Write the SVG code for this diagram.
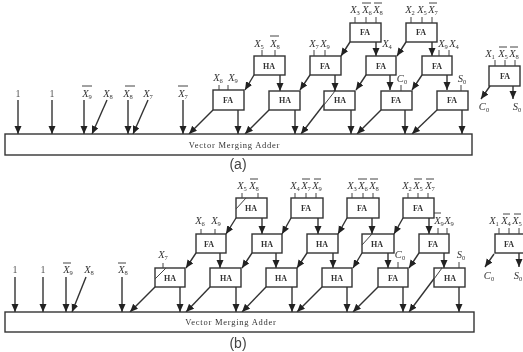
<svg xmlns="http://www.w3.org/2000/svg" width="523" height="352" viewBox="0 0 523 352">
<style>
text{font-family:"Liberation Serif","Times New Roman",serif;fill:#333}
.b{fill:#fff;stroke:#333;stroke-width:1.4}
.n{font-size:8px;font-weight:bold;text-anchor:middle}
.l{font-size:10.5px;font-style:italic;text-anchor:middle}
.o{font-size:10px;text-anchor:middle;fill:#555}
.s{font-size:6.5px;font-style:normal}
.t{font-size:8.5px;text-anchor:middle;letter-spacing:.75px}
.c{font-family:"Liberation Sans",Arial,sans-serif;font-size:14px;text-anchor:middle;fill:#444}
.w{stroke:#444;stroke-width:1;fill:none}
.a{stroke:#333;stroke-width:1.4;fill:none;marker-end:url(#h)}
</style>
<defs>
<marker id="h" markerUnits="userSpaceOnUse" markerWidth="10" markerHeight="8" refX="8" refY="3.5" orient="auto"><path d="M0 0L8 3.500L0 7z" fill="#222"/></marker>
<filter id="f" x="0" y="0" width="100%" height="100%"><feGaussianBlur stdDeviation="0.35"/></filter>
</defs>
<g filter="url(#f)">
<rect width="523" height="352" fill="#fff"/>
<g id="connectors">
<path class="a" d="M18 100V134"/><path class="a" d="M52 100V134"/><path class="a" d="M84 100V134"/><path class="a" d="M107 100L92 134"/><path class="a" d="M128 100V134"/><path class="a" d="M148 100L133 134"/><path class="a" d="M183 100V134"/>
<path class="a" d="M213 110L189 134"/><path class="a" d="M238 110V134"/><path class="a" d="M269 110L245 134"/><path class="a" d="M295 110V134"/><path class="a" d="M335 90L301 134"/><path class="a" d="M351 110V134"/><path class="a" d="M381 110L357 134"/><path class="a" d="M405 110V134"/><path class="a" d="M437 110L412 134"/><path class="a" d="M462 110V134"/>
<path class="a" d="M254 75L245 90"/><path class="a" d="M280 75V91"/><path class="a" d="M310 75L300 90"/><path class="a" d="M335 75V91"/><path class="a" d="M366 75L356 90"/><path class="a" d="M390 75V90"/><path class="a" d="M422 75L412 90"/><path class="a" d="M447 75V90"/>
<path class="a" d="M350 42L341 56"/><path class="a" d="M376 42V56"/><path class="a" d="M406 42L397 56"/><path class="a" d="M432 42V56"/>
<path class="a" d="M490 86L481 99"/><path class="a" d="M513 86V99"/>
<path class="a" d="M15 277V312"/><path class="a" d="M43 277V312"/><path class="a" d="M66 277V312"/><path class="a" d="M86 277L72 312"/><path class="a" d="M122 277V312"/>
<path class="a" d="M155 287L130 312"/><path class="a" d="M180 287V312"/><path class="a" d="M210 287L186 312"/><path class="a" d="M236 287V312"/><path class="a" d="M266 287L242 312"/><path class="a" d="M292 287V312"/><path class="a" d="M322 287L297 312"/><path class="a" d="M347 287V312"/><path class="a" d="M378 287L353 312"/><path class="a" d="M403 287V312"/><path class="a" d="M442 268L409 312"/><path class="a" d="M459 287V312"/>
<path class="a" d="M196 253L186 268"/><path class="a" d="M220 253V268"/><path class="a" d="M252 253L242 268"/><path class="a" d="M276 253V268"/><path class="a" d="M307 253L297 268"/><path class="a" d="M333 253V268"/><path class="a" d="M362 253L353 268"/><path class="a" d="M388 253V268"/><path class="a" d="M419 253L409 268"/><path class="a" d="M444 253V268"/>
<path class="a" d="M236 218L226 234"/><path class="a" d="M262 218V234"/><path class="a" d="M291 218L282 234"/><path class="a" d="M318 218V234"/><path class="a" d="M347 218L338 234"/><path class="a" d="M372 218V234"/><path class="a" d="M403 218L394 234"/><path class="a" d="M429 218V234"/>
<path class="a" d="M494 254L485 267"/><path class="a" d="M519 253V267"/>
</g>
<g id="adder-a"><rect class="b" x="5" y="134" width="467" height="21"/><text class="t" x="234.500" y="148">Vector Merging Adder</text></g>
<g id="adder-b"><rect class="b" x="5" y="312" width="469" height="20"/><text class="t" x="231" y="325">Vector Merging Adder</text></g>
<g id="inputs-a">
<text class="o" x="18" y="97">1</text><text class="o" x="52" y="97">1</text>
<text class="l" x="87" y="97">X<tspan class="s" dy="2">9</tspan></text><path class="w" d="M82 86H92M125 86H135M178 86H188"/>
<text class="l" x="108" y="97">X<tspan class="s" dy="2">8</tspan></text>
<text class="l" x="128" y="97">X<tspan class="s" dy="2">8</tspan></text>
<text class="l" x="148" y="97">X<tspan class="s" dy="2">7</tspan></text>
<text class="l" x="183" y="97">X<tspan class="s" dy="2">7</tspan></text>
</g>
<g id="a-fa1"><rect class="b" x="213" y="90" width="31" height="20"/><text class="n" x="228" y="103">FA</text><path class="w" d="M219 85V90M228 85V90"/><text class="l" x="218" y="81">X<tspan class="s" dy="2">6</tspan></text><text class="l" x="233" y="81">X<tspan class="s" dy="2">9</tspan></text></g>
<g id="a-ha1"><rect class="b" x="269" y="91" width="31" height="19"/><text class="n" x="285" y="103">HA</text></g>
<g id="a-ha2"><rect class="b" x="324" y="91" width="31" height="19"/><path class="w" d="M335 91L324 105"/><text class="n" x="340" y="103">HA</text></g>
<g id="a-fa2"><rect class="b" x="381" y="91" width="31" height="19"/><text class="n" x="396" y="103">FA</text><path class="w" d="M401 85V91"/><text class="l" x="402" y="82">C<tspan class="s" dy="2">0</tspan></text></g>
<g id="a-fa3"><rect class="b" x="437" y="91" width="31" height="19"/><text class="n" x="452" y="103">FA</text><path class="w" d="M461 85V91"/><text class="l" x="462" y="82">S<tspan class="s" dy="2">0</tspan></text></g>
<g id="a-ha3"><rect class="b" x="254" y="56" width="31" height="19"/><text class="n" x="269" y="69">HA</text><path class="w" d="M262 50V56M275 50V56M270 36H279"/><text class="l" x="259" y="47">X<tspan class="s" dy="2">5</tspan></text><text class="l" x="275" y="47">X<tspan class="s" dy="2">8</tspan></text></g>
<g id="a-fa4"><rect class="b" x="310" y="56" width="31" height="19"/><text class="n" x="325" y="69">FA</text><path class="w" d="M314 50V56M325 50V56"/><text class="l" x="314" y="47">X<tspan class="s" dy="2">7</tspan></text><text class="l" x="325" y="47">X<tspan class="s" dy="2">9</tspan></text></g>
<g id="a-fa5"><rect class="b" x="366" y="56" width="30" height="19"/><text class="n" x="381" y="69">FA</text><text class="l" x="387" y="47">X<tspan class="s" dy="2">4</tspan></text></g>
<g id="a-fa6"><rect class="b" x="422" y="56" width="30" height="19"/><text class="n" x="437" y="69">FA</text><path class="w" d="M439 50V56M449 50V56"/><text class="l" x="443" y="47">X<tspan class="s" dy="2">9</tspan></text><text class="l" x="454" y="47">X<tspan class="s" dy="2">4</tspan></text></g>
<g id="a-fa7"><rect class="b" x="350" y="23" width="31" height="19"/><text class="n" x="365" y="35">FA</text><path class="w" d="M355 17V23M366 17V23M376 17V23M362 3H371M374 3H382"/><text class="l" x="355" y="13">X<tspan class="s" dy="2">3</tspan></text><text class="l" x="367" y="13">X<tspan class="s" dy="2">6</tspan></text><text class="l" x="378" y="13">X<tspan class="s" dy="2">8</tspan></text></g>
<g id="a-fa8"><rect class="b" x="406" y="23" width="31" height="19"/><text class="n" x="421" y="35">FA</text><path class="w" d="M411 17V23M422 17V23M432 17V23M429 3H437"/><text class="l" x="410" y="13">X<tspan class="s" dy="2">2</tspan></text><text class="l" x="422" y="13">X<tspan class="s" dy="2">5</tspan></text><text class="l" x="433" y="13">X<tspan class="s" dy="2">7</tspan></text></g>
<g id="a-side"><rect class="b" x="489" y="66" width="31" height="20"/><text class="n" x="505" y="79">FA</text><path class="w" d="M495 60V66M505 60V66M515 60V66M499 47H507M510 47H518"/><text class="l" x="490" y="57">X<tspan class="s" dy="2">1</tspan></text><text class="l" x="503" y="57">X<tspan class="s" dy="2">5</tspan></text><text class="l" x="514" y="57">X<tspan class="s" dy="2">8</tspan></text><text class="l" x="484" y="110">C<tspan class="s" dy="2">0</tspan></text><text class="l" x="517" y="110">S<tspan class="s" dy="2">0</tspan></text></g>
<text class="c" x="238" y="169">(a)</text>
<g id="inputs-b">
<text class="o" x="15" y="273">1</text><text class="o" x="43" y="273">1</text>
<text class="l" x="68" y="273">X<tspan class="s" dy="2">9</tspan></text>
<text class="l" x="89" y="273">X<tspan class="s" dy="2">8</tspan></text>
<text class="l" x="123" y="273">X<tspan class="s" dy="2">8</tspan></text>
<path class="w" d="M63 263H71M118 263H126"/>
</g>
<g id="b-ha1"><rect class="b" x="155" y="268" width="30" height="19"/><path class="w" d="M166 268L155 279"/><text class="n" x="170" y="281">HA</text><path class="w" d="M163 263V268"/><text class="l" x="163" y="258">X<tspan class="s" dy="2">7</tspan></text></g>
<g id="b-ha2"><rect class="b" x="210" y="268" width="31" height="19"/><text class="n" x="226" y="281">HA</text></g>
<g id="b-ha3"><rect class="b" x="266" y="268" width="31" height="19"/><text class="n" x="281" y="281">HA</text></g>
<g id="b-ha4"><rect class="b" x="322" y="268" width="30" height="19"/><text class="n" x="337" y="281">HA</text></g>
<g id="b-fa1"><rect class="b" x="378" y="268" width="30" height="19"/><text class="n" x="393" y="281">FA</text><path class="w" d="M398 262V268"/><text class="l" x="400" y="258">C<tspan class="s" dy="2">0</tspan></text></g>
<g id="b-ha5"><rect class="b" x="434" y="268" width="31" height="19"/><path class="w" d="M442 268L434 279"/><text class="n" x="450" y="281">HA</text><path class="w" d="M459 262V268"/><text class="l" x="461" y="258">S<tspan class="s" dy="2">0</tspan></text></g>
<g id="b-fa2"><rect class="b" x="196" y="234" width="30" height="19"/><text class="n" x="209" y="247">FA</text><path class="w" d="M201 229V234M215 229V234"/><text class="l" x="200" y="224">X<tspan class="s" dy="2">6</tspan></text><text class="l" x="216" y="224">X<tspan class="s" dy="2">9</tspan></text></g>
<g id="b-ha6"><rect class="b" x="252" y="234" width="30" height="19"/><text class="n" x="267" y="247">HA</text></g>
<g id="b-ha7"><rect class="b" x="307" y="234" width="31" height="19"/><text class="n" x="322" y="247">HA</text></g>
<g id="b-ha8"><rect class="b" x="362" y="234" width="32" height="19"/><path class="w" d="M372 234L362 245"/><text class="n" x="377" y="247">HA</text></g>
<g id="b-fa3"><rect class="b" x="419" y="234" width="30" height="19"/><text class="n" x="433" y="247">FA</text><path class="w" d="M438 228V234M447 228V234M434 213H441"/><text class="l" x="439" y="224">X<tspan class="s" dy="2">9</tspan></text><text class="l" x="449" y="224">X<tspan class="s" dy="2">9</tspan></text></g>
<g id="b-ha9"><rect class="b" x="236" y="198" width="31" height="20"/><path class="w" d="M246 198L236 209"/><text class="n" x="251" y="211">HA</text><path class="w" d="M242 193V198M258 193V198M250 179H258"/><text class="l" x="242" y="189">X<tspan class="s" dy="2">5</tspan></text><text class="l" x="254" y="189">X<tspan class="s" dy="2">8</tspan></text></g>
<g id="b-fa4"><rect class="b" x="291" y="198" width="32" height="20"/><text class="n" x="306" y="211">FA</text><path class="w" d="M295 193V198M306 193V198M316 193V198M302 179H310M314 179H321"/><text class="l" x="295" y="189">X<tspan class="s" dy="2">4</tspan></text><text class="l" x="306" y="189">X<tspan class="s" dy="2">7</tspan></text><text class="l" x="317" y="189">X<tspan class="s" dy="2">9</tspan></text></g>
<g id="b-fa5"><rect class="b" x="347" y="198" width="32" height="20"/><text class="n" x="362" y="211">FA</text><path class="w" d="M352 193V198M363 193V198M373 193V198M358 179H367M370 179H378"/><text class="l" x="352" y="189">X<tspan class="s" dy="2">3</tspan></text><text class="l" x="363" y="189">X<tspan class="s" dy="2">6</tspan></text><text class="l" x="374" y="189">X<tspan class="s" dy="2">8</tspan></text></g>
<g id="b-fa6"><rect class="b" x="403" y="198" width="31" height="20"/><text class="n" x="418" y="211">FA</text><path class="w" d="M408 193V198M418 193V198M428 193V198M414 179H422M426 179H434"/><text class="l" x="407" y="189">X<tspan class="s" dy="2">2</tspan></text><text class="l" x="418" y="189">X<tspan class="s" dy="2">5</tspan></text><text class="l" x="430" y="189">X<tspan class="s" dy="2">7</tspan></text></g>
<g id="b-side"><rect class="b" x="495" y="234" width="32" height="19"/><text class="n" x="509" y="247">FA</text><path class="w" d="M499 228V234M509 228V234M519 228V234M503 214H510M514 214H521"/><text class="l" x="494" y="224">X<tspan class="s" dy="2">1</tspan></text><text class="l" x="506" y="224">X<tspan class="s" dy="2">4</tspan></text><text class="l" x="517" y="224">X<tspan class="s" dy="2">5</tspan></text><text class="l" x="489" y="279">C<tspan class="s" dy="2">0</tspan></text><text class="l" x="518" y="279">S<tspan class="s" dy="2">0</tspan></text></g>
<text class="c" x="238" y="348">(b)</text>
</g>
</svg>
